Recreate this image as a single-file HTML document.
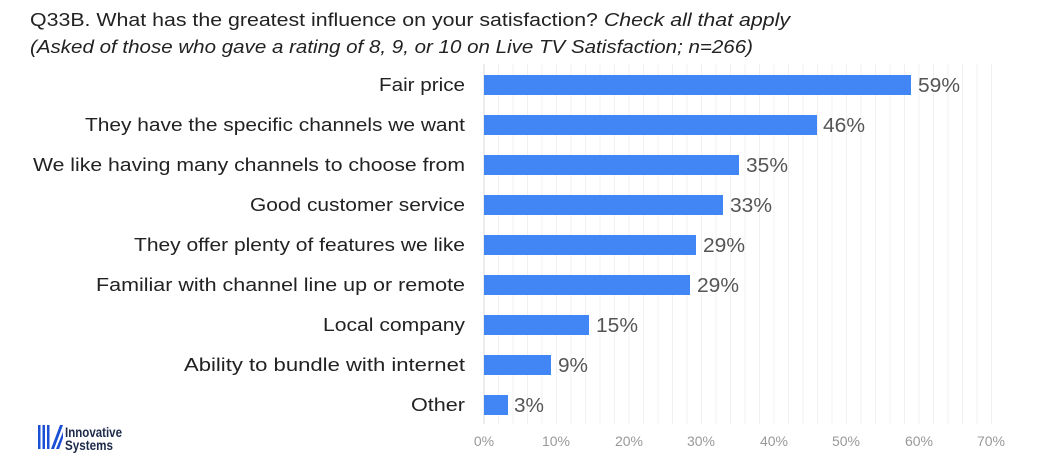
<!DOCTYPE html>
<html><head><meta charset="utf-8"><style>
html,body{margin:0;padding:0;background:#fff;}
svg{display:block;font-family:"Liberation Sans",sans-serif;}
</style></head><body>
<svg width="1042" height="469" viewBox="0 0 1042 469">
<text x="30" y="26" font-size="18" fill="#222" textLength="760" lengthAdjust="spacingAndGlyphs">Q33B. What has the greatest influence on your satisfaction?  <tspan font-style="italic">Check all that apply</tspan></text>
<text x="30" y="53" font-size="18" fill="#222" font-style="italic" textLength="723" lengthAdjust="spacingAndGlyphs">(Asked of those who gave a rating of 8, 9, or 10 on Live TV Satisfaction; n=266)</text>
<g stroke="#f0f0f0" stroke-width="1">
<line x1="498.5" y1="64" x2="498.5" y2="424"/><line x1="513" y1="64" x2="513" y2="424"/><line x1="527.5" y1="64" x2="527.5" y2="424"/><line x1="542" y1="64" x2="542" y2="424"/><line x1="556.5" y1="64" x2="556.5" y2="424"/><line x1="571" y1="64" x2="571" y2="424"/><line x1="585.5" y1="64" x2="585.5" y2="424"/><line x1="600" y1="64" x2="600" y2="424"/><line x1="614.5" y1="64" x2="614.5" y2="424"/><line x1="629" y1="64" x2="629" y2="424"/><line x1="643.5" y1="64" x2="643.5" y2="424"/><line x1="658" y1="64" x2="658" y2="424"/><line x1="672.5" y1="64" x2="672.5" y2="424"/><line x1="687" y1="64" x2="687" y2="424"/><line x1="701.5" y1="64" x2="701.5" y2="424"/><line x1="716" y1="64" x2="716" y2="424"/><line x1="730.5" y1="64" x2="730.5" y2="424"/><line x1="745" y1="64" x2="745" y2="424"/><line x1="759.5" y1="64" x2="759.5" y2="424"/><line x1="774" y1="64" x2="774" y2="424"/><line x1="788.5" y1="64" x2="788.5" y2="424"/><line x1="803" y1="64" x2="803" y2="424"/><line x1="817.5" y1="64" x2="817.5" y2="424"/><line x1="832" y1="64" x2="832" y2="424"/><line x1="846.5" y1="64" x2="846.5" y2="424"/><line x1="861" y1="64" x2="861" y2="424"/><line x1="875.5" y1="64" x2="875.5" y2="424"/><line x1="890" y1="64" x2="890" y2="424"/><line x1="904.5" y1="64" x2="904.5" y2="424"/><line x1="919" y1="64" x2="919" y2="424"/><line x1="933.5" y1="64" x2="933.5" y2="424"/><line x1="948" y1="64" x2="948" y2="424"/><line x1="962.5" y1="64" x2="962.5" y2="424"/><line x1="977" y1="64" x2="977" y2="424"/><line x1="991.5" y1="64" x2="991.5" y2="424"/>
</g>
<line x1="484" y1="64" x2="484" y2="424" stroke="#d9d9d9"/>
<g fill="#4285f4">
<rect x="484" y="75" width="427" height="20"/>
<rect x="484" y="115" width="333" height="20"/>
<rect x="484" y="155" width="255" height="20"/>
<rect x="484" y="195" width="239" height="20"/>
<rect x="484" y="235" width="212" height="20"/>
<rect x="484" y="275" width="206" height="20"/>
<rect x="484" y="315" width="105" height="20"/>
<rect x="484" y="355" width="67" height="20"/>
<rect x="484" y="395" width="24" height="20"/>
</g>
<g font-size="18" fill="#222" text-anchor="end">
<text x="465" y="91" textLength="86" lengthAdjust="spacingAndGlyphs">Fair price</text>
<text x="465" y="131" textLength="380" lengthAdjust="spacingAndGlyphs">They have the specific channels we want</text>
<text x="465" y="171" textLength="432" lengthAdjust="spacingAndGlyphs">We like having many channels to choose from</text>
<text x="465" y="211" textLength="215" lengthAdjust="spacingAndGlyphs">Good customer service</text>
<text x="465" y="251" textLength="331" lengthAdjust="spacingAndGlyphs">They offer plenty of features we like</text>
<text x="465" y="291" textLength="369" lengthAdjust="spacingAndGlyphs">Familiar with channel line up or remote</text>
<text x="465" y="331" textLength="142" lengthAdjust="spacingAndGlyphs">Local company</text>
<text x="465" y="371" textLength="281" lengthAdjust="spacingAndGlyphs">Ability to bundle with internet</text>
<text x="465" y="411" textLength="54" lengthAdjust="spacingAndGlyphs">Other</text>
</g>
<g font-size="20" fill="#555">
<text x="918" y="92" textLength="42" lengthAdjust="spacingAndGlyphs">59%</text>
<text x="823" y="132" textLength="42" lengthAdjust="spacingAndGlyphs">46%</text>
<text x="746" y="172" textLength="42" lengthAdjust="spacingAndGlyphs">35%</text>
<text x="730" y="212" textLength="42" lengthAdjust="spacingAndGlyphs">33%</text>
<text x="703" y="252" textLength="42" lengthAdjust="spacingAndGlyphs">29%</text>
<text x="697" y="292" textLength="42" lengthAdjust="spacingAndGlyphs">29%</text>
<text x="596" y="332" textLength="42" lengthAdjust="spacingAndGlyphs">15%</text>
<text x="558" y="372" textLength="30" lengthAdjust="spacingAndGlyphs">9%</text>
<text x="514" y="412" textLength="30" lengthAdjust="spacingAndGlyphs">3%</text>
</g>
<g font-size="14" fill="#999" text-anchor="middle">
<text x="484" y="446">0%</text><text x="556" y="446">10%</text><text x="629" y="446">20%</text><text x="701" y="446">30%</text><text x="774" y="446">40%</text><text x="846" y="446">50%</text><text x="919" y="446">60%</text><text x="991" y="446">70%</text>
</g>
<g fill="#1a4fd6">
<rect x="38" y="425" width="2.5" height="24"/><rect x="42.5" y="425" width="2.5" height="24"/><rect x="47" y="425" width="2.5" height="24"/>
<polygon points="51,449 54,449 63,425 60,425"/><polygon points="56,449 59,449 63,438 63,432"/>
</g>
<text x="65" y="437" font-size="13.5" font-weight="bold" fill="#1c2a4a" textLength="57" lengthAdjust="spacingAndGlyphs">Innovative</text>
<text x="65" y="450" font-size="13.5" font-weight="bold" fill="#1c2a4a" textLength="48" lengthAdjust="spacingAndGlyphs">Systems</text>
</svg>
</body></html>
